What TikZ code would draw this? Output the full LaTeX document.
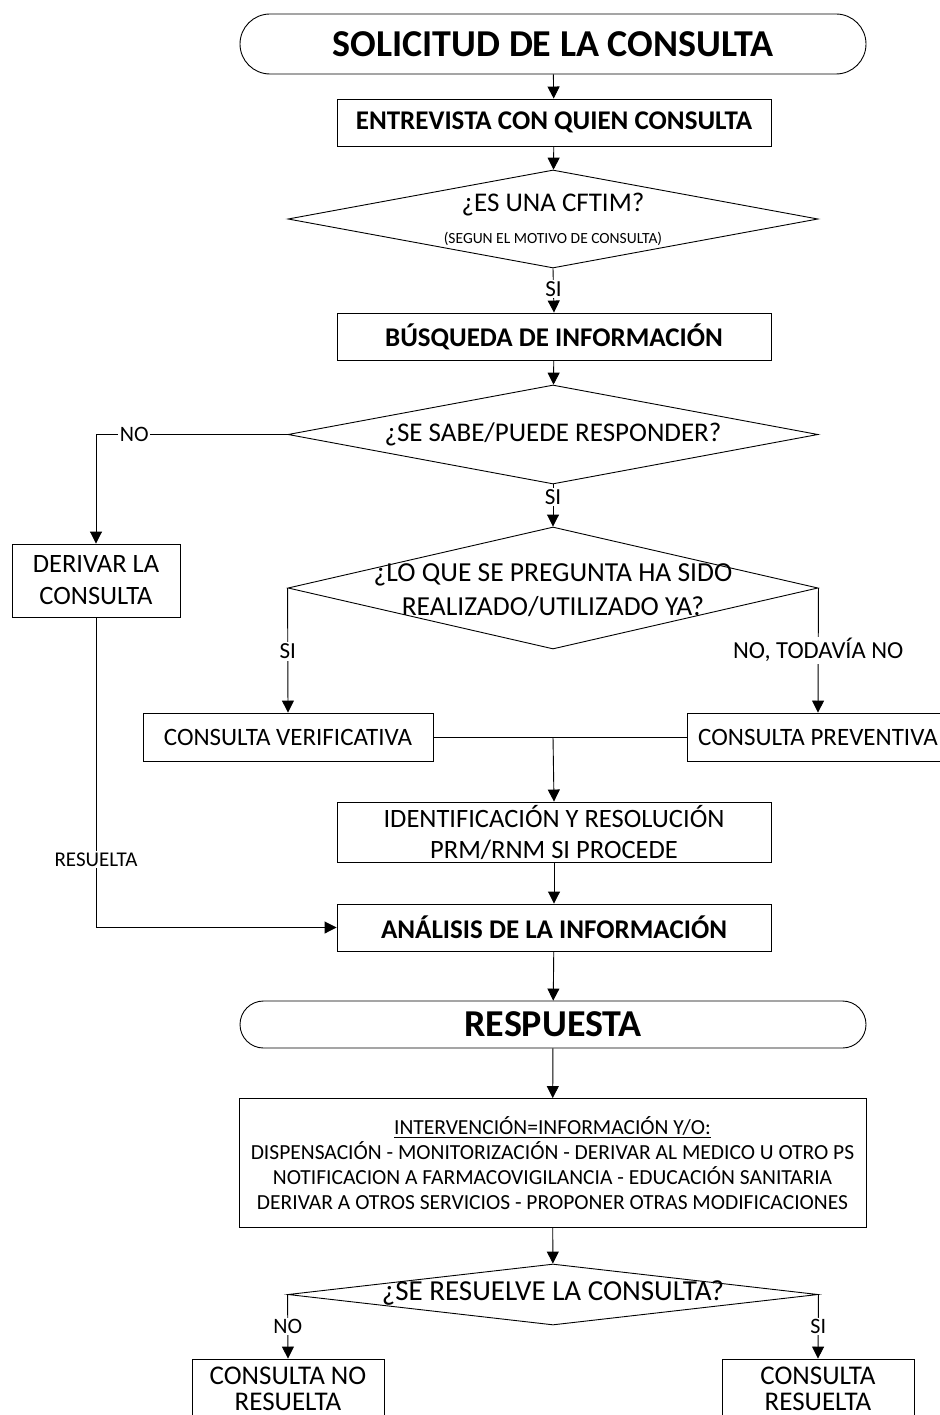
\documentclass[tikz,border=0pt]{standalone}
\usepackage{fontspec}
\setmainfont{Carlito}
\usetikzlibrary{shapes.geometric,shapes.misc,arrows.meta}
\newcommand{\fs}[2]{\fontsize{#1}{#2}\selectfont}
\begin{document}
\begin{tikzpicture}[x=1pt,y=-1pt,line width=0.9pt,
  >={Triangle[length=12pt,width=12pt]},
  box/.style={draw,rectangle,inner sep=0pt,align=center,font=\fs{25}{32}},
  bbox/.style={box,font=\bfseries\fs{27}{30}},
  term/.style={draw,rounded rectangle,minimum width=626pt,inner sep=0pt,font=\bfseries\fs{38}{40}},
  dia/.style={draw,diamond,inner sep=0pt},
  dtext/.style={align=center,inner sep=0pt,font=\fs{27}{34}},
  lbl/.style={fill=white,inner sep=1.5pt,font=\fs{23}{26}},
]
\useasboundingbox (0,0) rectangle (939,1415);

% top part
\node[term,minimum height=60pt] (t1) at (553,44) {SOLICITUD DE LA CONSULTA};
\node[bbox,minimum width=434pt,minimum height=47pt] (b1) at (554,122.5) {ENTREVISTA CON QUIEN CONSULTA};
\node[dia,minimum width=530pt,minimum height=98pt] (d1) at (553,219) {};
\node[dtext] (d1t) at (553,205) {¿ES UNA CFTIM?};
\node[dtext,font=\fs{15.5}{18}] (d1s) at (553,239) {(SEGUN EL MOTIVO DE CONSULTA)};
\node[bbox,minimum width=434pt,minimum height=47pt] (b2) at (554,336.5) {BÚSQUEDA DE INFORMACIÓN};
\node[dia,minimum width=530pt,minimum height=99pt] (d2) at (553,434.5) {};
\node[dtext] (d2t) at (553,434) {¿SE SABE/PUEDE RESPONDER?};
\node[box,minimum width=168pt,minimum height=73pt,font=\fs{26.5}{32}] (der) at (96,580.5) {DERIVAR LA\\CONSULTA};
\node[dia,minimum width=530pt,minimum height=122pt] (d3) at (553,588) {};
\node[dtext,font=\fs{27.5}{34}] (d3t) at (553,590) {¿LO QUE SE PREGUNTA HA SIDO\\REALIZADO/UTILIZADO YA?};
\node[box,minimum width=290pt,minimum height=48pt] (ver) at (288,737) {CONSULTA VERIFICATIVA};
\node[box,minimum width=262pt,minimum height=48pt] (pre) at (818,737) {CONSULTA PREVENTIVA};
\coordinate (j) at (553,737);
\node[box,minimum width=434pt,minimum height=60pt,font=\fs{26.5}{31}] (id) at (554,832) {IDENTIFICACIÓN Y RESOLUCIÓN\\PRM/RNM SI PROCEDE};
\node[bbox,minimum width=434pt,minimum height=47pt] (an) at (554,927.5) {ANÁLISIS DE LA INFORMACIÓN};

% bottom part
\node[term,minimum height=47pt] (t2) at (553,1024.5) {RESPUESTA};
\node[box,minimum width=627pt,minimum height=129pt,font=\fs{21.5}{25}] (bx) at (552.5,1163)
  {\underline{INTERVENCIÓN=INFORMACIÓN Y/O:}\\
   DISPENSACIÓN - MONITORIZACIÓN - DERIVAR AL MEDICO U OTRO PS\\
   NOTIFICACION A FARMACOVIGILANCIA - EDUCACIÓN SANITARIA\\
   DERIVAR A OTROS SERVICIOS - PROPONER OTRAS MODIFICACIONES};
\node[dia,minimum width=530pt,minimum height=61pt] (d4) at (553,1294.5) {};
\node[dtext,font=\fs{29}{30}] (d4t) at (553,1293) {¿SE RESUELVE LA CONSULTA?};
\node[box,minimum width=192pt,minimum height=60pt,font=\fs{27}{26.5}] (nr) at (288,1389) {CONSULTA NO\\RESUELTA};
\node[box,minimum width=192pt,minimum height=60pt,font=\fs{27}{26.5}] (sr) at (818,1389) {CONSULTA\\RESUELTA};

% connectors
\draw[->] (t1) -- (b1);
\draw[->] (b1) -- (d1);
\draw[->] (d1.south) -- (b2.north) node[lbl,pos=0.47] (l1) {SI};
\draw[->] (b2) -- (d2);
\draw[->] (d2.west) -| (der.north) node[lbl,pos=0.40,font=\fs{22}{24}] (l2) {NO};
\draw[->] (d2.south) -- (d3.north) node[lbl,pos=0.3] (l3) {SI};
\draw[->] (d3.west) -- (ver.north) node[lbl,pos=0.51] (l4) {SI};
\draw[->] (d3.east) -- (pre.north) node[lbl,pos=0.5,font=\fs{24.5}{26}] (l5) {NO, TODAVÍA NO};
\draw (ver.east) -- (pre.west);
\draw[->] (j) -- (id.north);
\draw[->] (id) -- (an);
\draw[->] (der.south) |- (an.west) node[lbl,pos=0.39,font=\fs{21}{24}] (l6) {RESUELTA};
\draw[->] (an) -- (t2);
\draw[->] (t2) -- (bx);
\draw[->] (bx) -- (d4);
\draw[->] (d4.west) -- (nr.north) node[lbl,pos=0.5,font=\fs{22}{24}] (l7) {NO};
\draw[->] (d4.east) -- (sr.north) node[lbl,pos=0.5,font=\fs{22}{24}] (l8) {SI};
\end{tikzpicture}
\end{document}
